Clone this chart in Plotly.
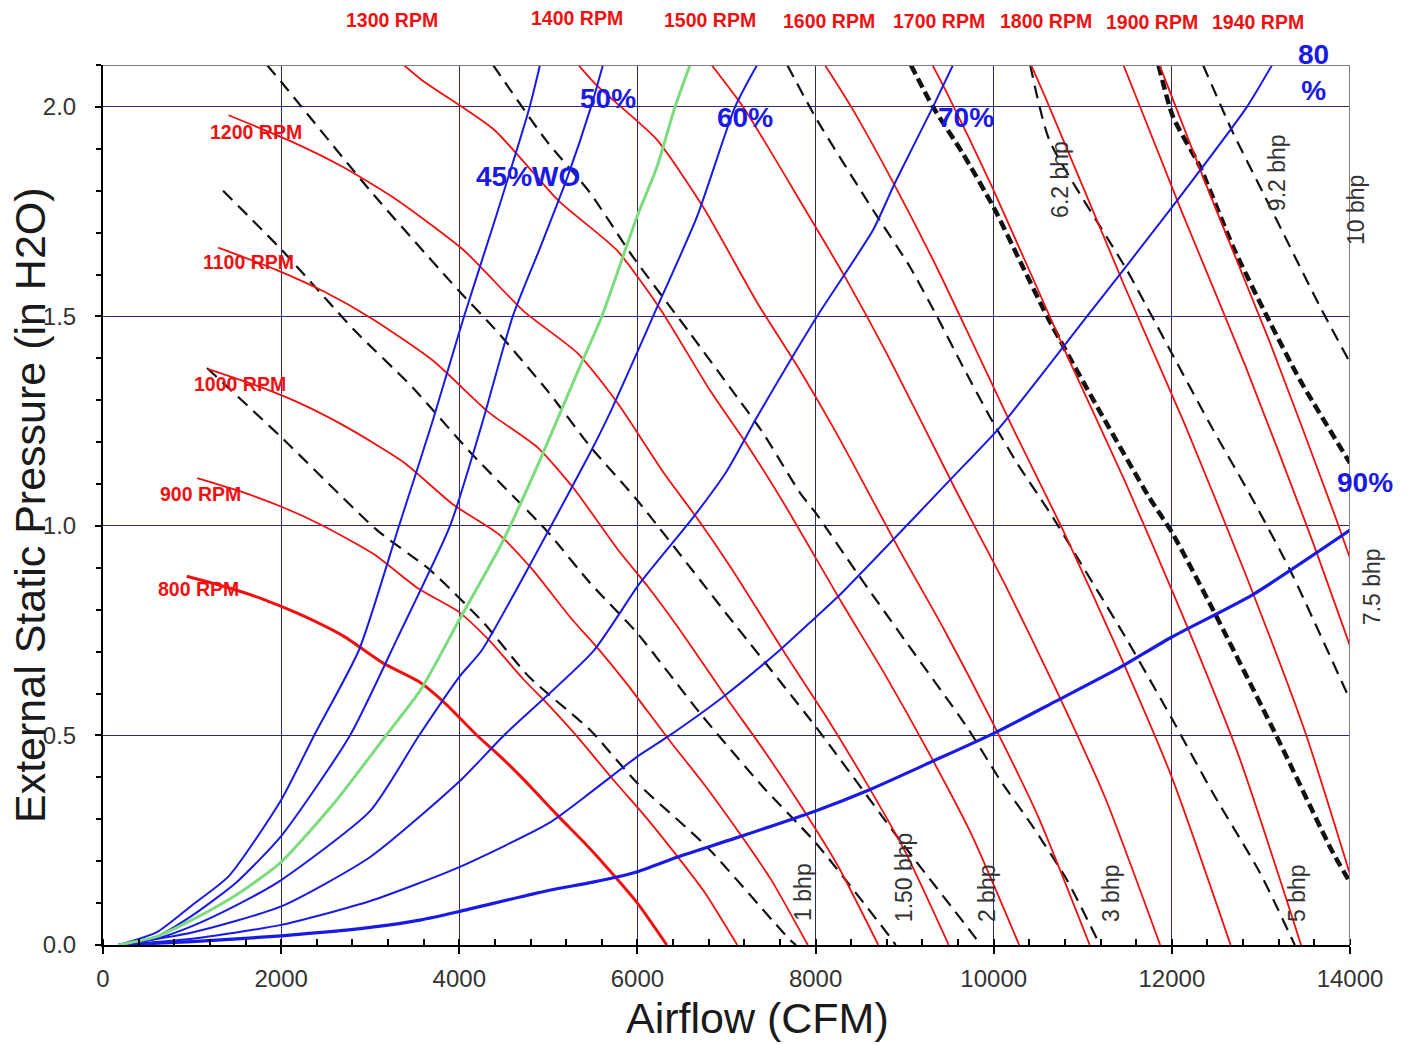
import plotly.graph_objects as go

# ---------------- data ----------------
# Fan curves at constant speed: airflow (CFM) vs external static pressure (in H2O)
cfm_800 = [940, 1400, 1800, 2200, 2700, 3150, 3550, 3850, 4200, 4450, 4700, 5100, 5400, 5700, 6000, 6330]
sp_800 = [0.880, 0.853, 0.825, 0.790, 0.737, 0.672, 0.628, 0.575, 0.500, 0.452, 0.400, 0.310, 0.245, 0.175, 0.100, 0.0]
cfm_900 = [1058, 1575, 2025, 2475, 3038, 3544, 3994, 4331, 4725, 5006, 5288, 5738, 6075, 6413, 6750, 7121]
sp_900 = [1.114, 1.080, 1.044, 1.000, 0.933, 0.850, 0.795, 0.728, 0.633, 0.572, 0.506, 0.392, 0.310, 0.221, 0.127, 0.0]
cfm_1000 = [1175, 1750, 2250, 2750, 3375, 3938, 4438, 4813, 5250, 5563, 5875, 6375, 6750, 7125, 7500, 7913]
sp_1000 = [1.375, 1.333, 1.289, 1.234, 1.152, 1.050, 0.981, 0.898, 0.781, 0.706, 0.625, 0.484, 0.383, 0.273, 0.156, 0.0]
cfm_1100 = [1293, 1925, 2475, 3025, 3713, 4331, 4881, 5294, 5775, 6119, 6463, 7013, 7425, 7838, 8250, 8704]
sp_1100 = [1.664, 1.613, 1.560, 1.494, 1.393, 1.271, 1.187, 1.087, 0.945, 0.855, 0.756, 0.586, 0.463, 0.331, 0.189, 0.0]
cfm_1200 = [1410, 2100, 2700, 3300, 4050, 4725, 5325, 5775, 6300, 6675, 7050, 7650, 8100, 8550, 9000, 9495]
sp_1200 = [1.980, 1.919, 1.856, 1.778, 1.658, 1.512, 1.413, 1.294, 1.125, 1.017, 0.900, 0.698, 0.551, 0.394, 0.225, 0.0]
cfm_1300 = [2275, 2925, 3575, 4388, 5119, 5769, 6256, 6825, 7231, 7638, 8288, 8775, 9263, 9750, 10286]
sp_1300 = [2.253, 2.179, 2.065, 1.946, 1.775, 1.658, 1.518, 1.320, 1.194, 1.056, 0.819, 0.647, 0.462, 0.264, 0.0]
cfm_1400 = [4725, 5513, 6213, 6738, 7350, 7788, 8225, 8925, 9450, 9975, 10500, 11078]
sp_1400 = [2.257, 2.058, 1.923, 1.761, 1.531, 1.384, 1.225, 0.949, 0.750, 0.536, 0.306, 0.0]
cfm_1500 = [6500, 7186, 7875, 8344, 8813, 9563, 10125, 10688, 11250, 11869]
sp_1500 = [2.190, 2.000, 1.758, 1.589, 1.406, 1.090, 0.861, 0.615, 0.352, 0.0]
cfm_1600 = [7300, 7800, 8400, 8900, 9400, 10200, 10800, 11400, 12000, 12660]
sp_1600 = [2.360, 2.200, 2.000, 1.808, 1.600, 1.240, 0.980, 0.700, 0.400, 0.0]
cfm_1700 = [8181, 8925, 9456, 9988, 10838, 11475, 12113, 12750, 13451]
sp_1700 = [2.596, 2.258, 2.041, 1.806, 1.400, 1.106, 0.790, 0.452, 0.0]
cfm_1800 = [9450, 10013, 10575, 11475, 12150, 12825, 13500, 14243]
sp_1800 = [2.531, 2.288, 2.025, 1.569, 1.240, 0.886, 0.506, 0.0]
cfm_1900 = [9975, 10569, 11163, 12113, 12825, 13538, 14250]
sp_1900 = [2.820, 2.550, 2.256, 1.749, 1.382, 0.987, 0.564]
cfm_1940 = [10791, 11398, 12368, 13095, 13823, 14550]
sp_1940 = [2.658, 2.352, 1.823, 1.441, 1.029, 0.588]

rpm_labels = ["800 RPM", "900 RPM", "1000 RPM", "1100 RPM", "1200 RPM", "1300 RPM", "1400 RPM",
              "1500 RPM", "1600 RPM", "1700 RPM", "1800 RPM", "1900 RPM", "1940 RPM"]

# System / efficiency curves (% wide open)
eff_labels = ["45%WO", "50%", "60%", "70%", "80%", "90%"]
cfm_45 = [170, 600, 1000, 1415, 2000, 2370, 2874, 3323, 3700, 4053, 4400, 4790, 4906]
sp_45 = [0.0, 0.03, 0.095, 0.165, 0.346, 0.5, 0.704, 1.0, 1.25, 1.5, 1.73, 2.0, 2.1]
cfm_50 = [170, 600, 1000, 1500, 2000, 2773, 3300, 3896, 4250, 4600, 4900, 5210, 5479, 5613]
sp_50 = [0.0, 0.02, 0.07, 0.15, 0.26, 0.5, 0.73, 1.0, 1.24, 1.5, 1.66, 1.83, 2.0, 2.1]
cfm_green = [170, 600, 1000, 1500, 2000, 2600, 3177, 3570, 4000, 4480, 4906, 5333, 5600, 5995, 6220, 6422, 6590]
sp_green = [0.0, 0.02, 0.06, 0.12, 0.198, 0.34, 0.5, 0.61, 0.776, 0.96, 1.157, 1.37, 1.5, 1.738, 1.857, 2.0, 2.1]
cfm_60 = [170, 600, 1000, 1500, 2000, 3000, 3548, 4000, 4255, 5030, 5468, 5692, 5995, 6175, 6669, 7096, 7343]
sp_60 = [0.0, 0.015, 0.045, 0.095, 0.155, 0.32, 0.5, 0.64, 0.704, 1.0, 1.174, 1.27, 1.413, 1.5, 1.738, 2.0, 2.1]
cfm_70 = [170, 1000, 2000, 3000, 4000, 4500, 5500, 6029, 6624, 7000, 7343, 8016, 8645, 8892, 9318, 9543]
sp_70 = [0.0, 0.03, 0.092, 0.21, 0.39, 0.5, 0.70, 0.864, 1.02, 1.13, 1.26, 1.5, 1.706, 1.819, 2.0, 2.1]
cfm_80 = [170, 1000, 2000, 3000, 4000, 5000, 5468, 5995, 6332, 6961, 7600, 8005, 8250, 8870, 9510, 10071, 11047, 12000, 12843, 13125]
sp_80 = [0.0, 0.015, 0.048, 0.105, 0.186, 0.29, 0.363, 0.449, 0.496, 0.592, 0.704, 0.783, 0.831, 0.967, 1.11, 1.236, 1.5, 1.76, 2.0, 2.1]
cfm_90 = [170, 1000, 2000, 3000, 3570, 4000, 5000, 5500, 6000, 6450, 7100, 8000, 8600, 9300, 10000, 10700, 11400, 12000, 12900, 14000]
sp_90 = [0.0, 0.008, 0.022, 0.042, 0.06, 0.08, 0.13, 0.15, 0.175, 0.21, 0.255, 0.32, 0.37, 0.437, 0.505, 0.582, 0.66, 0.735, 0.835, 0.99]

# Brake horsepower lines
cfm_1bhp = [1168, 2000, 3076, 3671, 4277, 4783, 5468, 5995, 6781, 7713, 7780]
sp_1bhp = [1.377, 1.212, 0.99, 0.895, 0.768, 0.64, 0.513, 0.387, 0.234, 0.012, 0.0]
cfm_15bhp = [1348, 2000, 2818, 3469, 4131, 4975, 5468, 5995, 6703, 7410, 8005, 8836, 8900]
sp_15bhp = [1.80, 1.66, 1.468, 1.332, 1.174, 0.99, 0.864, 0.745, 0.553, 0.377, 0.243, 0.019, 0.0]
cfm_2bhp = [1841, 2000, 3000, 4000, 4400, 5000, 5468, 5995, 7000, 8005, 9000, 9813, 9850]
sp_2bhp = [2.1, 2.06, 1.80, 1.56, 1.47, 1.32, 1.19, 1.062, 0.79, 0.52, 0.235, 0.012, 0.0]
cfm_3bhp = [4379, 4975, 5468, 5950, 6590, 7040, 7410, 7825, 8005, 8465, 9000, 9700, 10071, 10441, 10823, 11193]
sp_3bhp = [2.1, 1.92, 1.795, 1.642, 1.46, 1.33, 1.222, 1.079, 1.03, 0.888, 0.728, 0.52, 0.394, 0.282, 0.155, 0.0]
cfm_5bhp = [7682, 8016, 8645, 9060, 9363, 9655, 9958, 10262, 10666, 10935, 11497, 11990, 12462, 12990, 13380]
sp_5bhp = [2.1, 1.969, 1.754, 1.618, 1.5, 1.38, 1.26, 1.15, 1.02, 0.926, 0.728, 0.544, 0.362, 0.172, 0.0]
cfm_62bhp = [10410, 10626, 11497, 11979, 12462, 12911, 13327, 14000]
sp_62bhp = [2.1, 1.92, 1.61, 1.42, 1.23, 1.062, 0.895, 0.585]
cfm_92bhp = [12350, 12687, 13024, 13327, 13664, 14000]
sp_92bhp = [2.1, 1.938, 1.795, 1.666, 1.523, 1.39]
# motor limit lines (heavy dashed)
cfm_limit_a = [9070, 9318, 9650, 10000, 10300, 10600, 11200, 11755, 12000, 12462, 13181, 13809, 14000]
sp_limit_a = [2.1, 2.0, 1.89, 1.76, 1.63, 1.5, 1.27, 1.065, 0.985, 0.80, 0.496, 0.22, 0.15]
cfm_limit_b = [11850, 12013, 12316, 12687, 13068, 13439, 14000]
sp_limit_b = [2.1, 1.976, 1.857, 1.666, 1.5, 1.348, 1.15]

x_ticks = [0, 2000, 4000, 6000, 8000, 10000, 12000, 14000]
y_ticks = [0.0, 0.5, 1.0, 1.5, 2.0]

# ---------------- figure ----------------
X_MAX, Y_MAX = 14000, 2.1
RED, BLUE, GREEN, BLACK = "#f01010", "#1a1ae6", "#7ddc7d", "#111111"
FONT = "Liberation Sans, Arial, sans-serif"

fig = go.Figure()

bhp_thin = [(cfm_1bhp, sp_1bhp), (cfm_15bhp, sp_15bhp), (cfm_2bhp, sp_2bhp), (cfm_3bhp, sp_3bhp),
            (cfm_5bhp, sp_5bhp), (cfm_62bhp, sp_62bhp), (cfm_92bhp, sp_92bhp)]
for xs, ys in bhp_thin:
    fig.add_trace(go.Scatter(x=xs, y=ys, mode="lines",
                             line=dict(color=BLACK, width=2.2, dash="13px,8px", shape="spline", smoothing=0.6)))
for xs, ys in [(cfm_limit_a, sp_limit_a), (cfm_limit_b, sp_limit_b)]:
    fig.add_trace(go.Scatter(x=xs, y=ys, mode="lines",
                             line=dict(color=BLACK, width=4.5, dash="10px,5px", shape="spline", smoothing=0.6)))

rpm_series = [(cfm_800, sp_800), (cfm_900, sp_900), (cfm_1000, sp_1000), (cfm_1100, sp_1100),
              (cfm_1200, sp_1200), (cfm_1300, sp_1300), (cfm_1400, sp_1400), (cfm_1500, sp_1500),
              (cfm_1600, sp_1600), (cfm_1700, sp_1700), (cfm_1800, sp_1800), (cfm_1900, sp_1900),
              (cfm_1940, sp_1940)]
for name, (xs, ys) in zip(rpm_labels, rpm_series):
    fig.add_trace(go.Scatter(x=xs, y=ys, mode="lines", name=name,
                             line=dict(color=RED, width=3 if name == "800 RPM" else 1.8,
                                       shape="spline", smoothing=0.6)))

eff_series = [(cfm_45, sp_45), (cfm_50, sp_50), (cfm_60, sp_60), (cfm_70, sp_70),
              (cfm_80, sp_80), (cfm_90, sp_90)]
for name, (xs, ys) in zip(eff_labels, eff_series):
    fig.add_trace(go.Scatter(x=xs, y=ys, mode="lines", name=name,
                             line=dict(color=BLUE, width=3.2 if name == "90%" else 2,
                                       shape="spline", smoothing=0.6)))
fig.add_trace(go.Scatter(x=cfm_green, y=sp_green, mode="lines",
                         line=dict(color=GREEN, width=3, shape="spline", smoothing=0.6)))

# ---------------- labels ----------------
rpm_label_pos = [(3245, 2.208), (5322, 2.212), (6815, 2.208), (8151, 2.205), (9386, 2.205),
                 (10587, 2.205), (11777, 2.203), (12967, 2.203),
                 (1718, 1.940), (1628, 1.630), (1538, 1.339), (1100, 1.076), (1067, 0.850)]
rpm_label_text = ["1300 RPM", "1400 RPM", "1500 RPM", "1600 RPM", "1700 RPM", "1800 RPM",
                  "1900 RPM", "1940 RPM", "1200 RPM", "1100 RPM", "1000 RPM", "900 RPM", "800 RPM"]
eff_label_text = ["45%WO", "50%", "60%", "70%", "80<br>%", "90%"]
eff_label_pos = [(4772, 1.833), (5670, 2.021), (7208, 1.974), (9689, 1.974), (13590, 2.081), (14169, 1.103)]
bhp_label_text = ["1 bhp", "1.50 bhp", "2 bhp", "3 bhp", "5 bhp", "6.2 bhp", "9.2 bhp", "10 bhp", "7.5 bhp"]
bhp_label_pos = [(7860, 0.127), (8993, 0.162), (9925, 0.124), (11317, 0.124), (13405, 0.124),
                 (10745, 1.826), (13181, 1.842), (14068, 1.754), (14247, 0.854)]

annotations = []
def add_label(text, pos, size, color, bold=False, angle=0):
    annotations.append(dict(
        text=f"<b>{text}</b>" if bold else text, xref="paper", yref="paper",
        x=pos[0] / X_MAX, y=pos[1] / Y_MAX, xanchor="center", yanchor="middle",
        showarrow=False, textangle=angle, font=dict(family=FONT, size=size, color=color)))

for t, p in zip(rpm_label_text, rpm_label_pos):
    add_label(t, p, 19.5, "#ee1111", bold=True)
for t, p in zip(eff_label_text, eff_label_pos):
    add_label(t, p, 28, BLUE, bold=True)
for t, p in zip(bhp_label_text, bhp_label_pos):
    add_label(t, p, 23, "#333333", angle=-90)

annotations.append(dict(text="Airflow (CFM)", xref="paper", yref="paper", x=0.5245, y=-0.083,
                        xanchor="center", yanchor="middle", showarrow=False,
                        font=dict(family=FONT, size=43, color="#1a1a1a")))
annotations.append(dict(text="External Static Pressure (in H2O)", xref="paper", yref="paper",
                        x=-0.0585, y=0.5, xanchor="center", yanchor="middle", showarrow=False,
                        textangle=-90, font=dict(family=FONT, size=43, color="#1a1a1a")))

GRID = "#2a2a7c"
fig.update_layout(
    width=1413, height=1045, margin=dict(l=103, r=63, t=65, b=100),
    plot_bgcolor="white", paper_bgcolor="white", showlegend=False,
    font=dict(family=FONT), annotations=annotations,
    shapes=[
        dict(type="line", xref="x", yref="y", x0=0, x1=X_MAX, y0=Y_MAX, y1=Y_MAX,
             line=dict(color="#808080", width=2)),
        dict(type="line", xref="x", yref="y", x0=X_MAX, x1=X_MAX, y0=0, y1=Y_MAX,
             line=dict(color="#808080", width=2)),
    ],
)
fig.update_xaxes(
    range=[0, X_MAX], tickmode="array", tickvals=x_ticks, ticktext=[str(v) for v in x_ticks],
    showgrid=True, gridcolor=GRID, gridwidth=1.4, zeroline=False,
    showline=True, linecolor="black", linewidth=2,
    ticks="outside", ticklen=7, tickwidth=1.5, tickcolor="black",
    minor=dict(dtick=400, tick0=0, ticks="inside", ticklen=6, tickcolor="black", showgrid=False),
    tickfont=dict(family=FONT, size=24, color="#333333"), ticklabelstandoff=4,
)
fig.update_yaxes(
    range=[0, Y_MAX], tickmode="array", tickvals=y_ticks, ticktext=[f"{v:.1f}" for v in y_ticks],
    showgrid=True, gridcolor=GRID, gridwidth=1.4, zeroline=False,
    showline=True, linecolor="black", linewidth=2,
    ticks="outside", ticklen=6, tickwidth=1.5, tickcolor="black",
    minor=dict(dtick=0.1, tick0=0, ticks="outside", ticklen=5, tickcolor="black", showgrid=False),
    tickfont=dict(family=FONT, size=24, color="#333333"), ticklabelstandoff=14,
)

fig.write_html("out.html", config={"displayModeBar": False},
               post_script="document.body.style.margin='0';")
